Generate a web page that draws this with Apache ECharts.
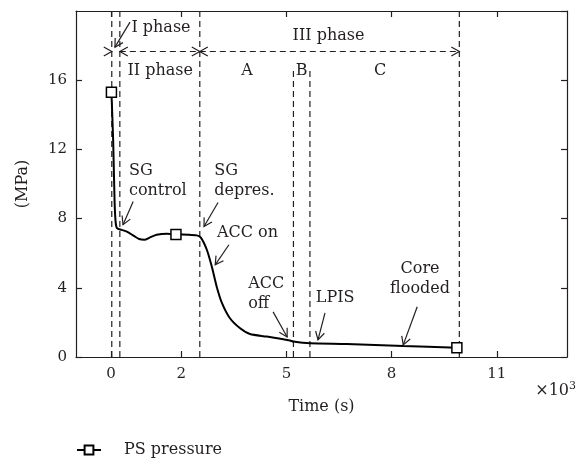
<!DOCTYPE html>
<html>
<head>
<meta charset="utf-8">
<script src="https://cdn.jsdelivr.net/npm/echarts@6/dist/echarts.min.js"></script>
<style>html,body{margin:0;padding:0;background:#fff}#c{width:584px;height:465px}</style>
</head>
<body>
<div id="c"></div>
<script>
// ---- data (time in 10^3 s, pressure in MPa) ----
const timeK = [0.01, 0.06, 0.10, 0.13, 0.17, 0.30, 0.45, 0.65, 0.80, 0.95, 1.10, 1.30, 1.60, 1.85, 2.20, 2.44, 2.56, 2.73, 2.87, 3.01, 3.16, 3.39, 3.68, 3.96, 4.44, 5.10, 5.20, 5.67, 6.72, 8.33, 9.86];
const psPressure = [15.3, 12.5, 9.0, 7.8, 7.45, 7.35, 7.25, 7.0, 6.82, 6.78, 6.9, 7.07, 7.13, 7.08, 7.07, 7.03, 6.9, 6.2, 5.24, 4.08, 3.13, 2.24, 1.66, 1.33, 1.18, 0.95, 0.89, 0.79, 0.75, 0.64, 0.54];
const markerIdx = [0, 13, 30];
const xTickValues = [0, 2, 5, 8, 11];
const yTickInterval = 4;
const seriesName = 'PS pressure';

// phase boundary lines: [x, yTop]
const phaseLines = [[0.02, 20], [0.25, 20], [2.53, 20], [5.2, 16.75], [5.67, 16.75], [9.93, 20]];
// arrows: [x1, y1, x2, y2, dashed, headAtStart, headAtEnd]
const arrows = [
  [-0.25, 17.66, 0.02, 17.66, 0, 0, 1],
  [0.25, 17.66, 2.53, 17.66, 1, 1, 1],
  [2.53, 17.66, 9.93, 17.66, 1, 1, 1],
  [0.54, 19.36, 0.11, 17.91, 0, 0, 1],
  [0.63, 8.99, 0.34, 7.65, 0, 0, 1],
  [3.05, 8.93, 2.65, 7.54, 0, 0, 1],
  [3.36, 6.49, 2.97, 5.33, 0, 0, 1],
  [4.62, 2.61, 5.02, 1.16, 0, 0, 1],
  [6.10, 2.55, 5.90, 0.99, 0, 0, 1],
  [8.73, 2.90, 8.33, 0.70, 0, 0, 1]
];
// annotation texts: [x, y, text, align]
const notes = [
  [0.58, 19.0, 'I phase', 'left'],
  [6.2, 18.55, 'III phase', 'center'],
  [1.4, 16.52, 'II phase', 'center'],
  [3.88, 16.52, 'A', 'center'],
  [5.43, 16.52, 'B', 'center'],
  [7.67, 16.52, 'C', 'center'],
  [0.51, 10.2, 'SG\ncontrol', 'left'],
  [2.94, 10.2, 'SG\ndepres.', 'left'],
  [3.89, 7.19, 'ACC on', 'center'],
  [3.91, 3.66, 'ACC\noff', 'left'],
  [6.39, 3.42, 'LPIS', 'center'],
  [8.81, 4.49, 'Core\nflooded', 'center']
];

const FONT = 'DejaVu Serif';
const INK = '#231f20';

const lineData = timeK.map((t, i) => markerIdx.includes(i)
  ? { value: [t, psPressure[i]] }
  : { value: [t, psPressure[i]], symbol: 'none' });

const chart = echarts.init(document.getElementById('c'), null, { renderer: 'canvas' });

function headPts(tip, from, L, W) {
  const dx = tip[0] - from[0], dy = tip[1] - from[1];
  const len = Math.sqrt(dx * dx + dy * dy) || 1;
  const ux = dx / len, uy = dy / len;
  const nx = -uy, ny = ux;
  return [[tip[0] - L * ux + W * nx, tip[1] - L * uy + W * ny], tip, [tip[0] - L * ux - W * nx, tip[1] - L * uy - W * ny]];
}

const axisLineStyle = { show: true, onZero: false, lineStyle: { color: INK, width: 1.2 } };
const xAxisCommon = {
  type: 'value', min: -1, max: 13,
  axisLine: axisLineStyle,
  axisTick: { show: true, inside: true, length: 6, customValues: xTickValues, lineStyle: { color: INK, width: 1.2 } },
  splitLine: { show: false }
};

chart.setOption({
  animation: false,
  backgroundColor: '#fff',
  textStyle: { fontFamily: FONT, color: INK },
  grid: { left: 76, right: 17, top: 11, bottom: 108, containLabel: false },
  legend: {
    left: 71, top: 437, itemWidth: 24, itemHeight: 11,
    data: [seriesName],
    textStyle: { fontFamily: FONT, fontSize: 16, color: INK, padding: [0, 0, 0, 18] }
  },
  xAxis: [
    Object.assign({}, xAxisCommon, {
      position: 'bottom',
      name: 'Time (s)', nameLocation: 'middle', nameGap: 42,
      nameTextStyle: { fontFamily: FONT, fontSize: 16, color: INK },
      axisLabel: { show: true, customValues: xTickValues, fontFamily: FONT, fontSize: 15, color: INK, margin: 10 }
    }),
    Object.assign({}, xAxisCommon, {
      position: 'top',
      axisLabel: { show: false }
    })
  ],
  yAxis: [
    {
      type: 'value', min: 0, max: 20, interval: yTickInterval, position: 'left',
      name: '(MPa)', nameLocation: 'middle', nameGap: 45, nameRotate: 90,
      nameTextStyle: { fontFamily: FONT, fontSize: 16, color: INK },
      axisLine: axisLineStyle,
      axisTick: { show: true, inside: true, length: 6, lineStyle: { color: INK, width: 1.2 } },
      axisLabel: { show: true, showMaxLabel: false, fontFamily: FONT, fontSize: 15, color: INK, margin: 9 },
      splitLine: { show: false }
    },
    {
      type: 'value', min: 0, max: 20, interval: yTickInterval, position: 'right',
      axisLine: axisLineStyle,
      axisTick: { show: true, inside: true, length: 6, lineStyle: { color: INK, width: 1.2 } },
      axisLabel: { show: false },
      splitLine: { show: false }
    }
  ],
  graphic: [{
    type: 'text', right: 8, top: 381,
    style: {
      text: '×10{sup|3}', fontFamily: FONT, fontSize: 16, fill: INK,
      rich: { sup: { fontFamily: FONT, fontSize: 11, fill: INK, verticalAlign: 'top', padding: [0, 0, 8, 0] } }
    }
  }],
  series: [
    {
      type: 'custom', name: 'phases', xAxisIndex: 0, yAxisIndex: 0, silent: true, z: 1,
      data: phaseLines,
      encode: { x: 0, y: 1 },
      renderItem: function (params, api) {
        const a = api.coord([api.value(0), 0]);
        const b = api.coord([api.value(0), api.value(1)]);
        return { type: 'line', shape: { x1: a[0], y1: a[1], x2: b[0], y2: b[1] },
          style: { stroke: INK, lineWidth: 1.2, lineDash: [6, 4] } };
      }
    },
    {
      type: 'custom', name: 'arrows', xAxisIndex: 0, yAxisIndex: 0, silent: true, z: 3,
      data: arrows,
      encode: { x: [0, 2], y: [1, 3] },
      renderItem: function (params, api) {
        const p1 = api.coord([api.value(0), api.value(1)]);
        const p2 = api.coord([api.value(2), api.value(3)]);
        const dashed = api.value(4) === 1;
        const children = [];
        if (api.value(5) === 1 || Math.hypot(p2[0]-p1[0], p2[1]-p1[1]) > 12) {
          children.push({ type: 'line', shape: { x1: p1[0], y1: p1[1], x2: p2[0], y2: p2[1] },
            style: { stroke: INK, lineWidth: 1.2, lineDash: dashed ? [6, 4] : null } });
        }
        if (api.value(6) === 1) children.push({ type: 'polyline', shape: { points: headPts(p2, p1, 8, 4.5) }, style: { stroke: INK, fill: null, lineWidth: 1.2 } });
        if (api.value(5) === 1) children.push({ type: 'polyline', shape: { points: headPts(p1, p2, 8, 4.5) }, style: { stroke: INK, fill: null, lineWidth: 1.2 } });
        return { type: 'group', children: children };
      }
    },
    {
      type: 'custom', name: 'notes', xAxisIndex: 0, yAxisIndex: 0, silent: true, z: 4,
      data: notes.map(n => [n[0], n[1]]),
      encode: { x: 0, y: 1 },
      renderItem: function (params, api) {
        const n = notes[params.dataIndex];
        const p = api.coord([n[0], n[1]]);
        return { type: 'text', x: p[0], y: p[1],
          style: { text: n[2], fontFamily: FONT, fontSize: 16, fill: INK, align: n[3], verticalAlign: 'middle', lineHeight: 20 } };
      }
    },
    {
      type: 'line', name: seriesName, xAxisIndex: 0, yAxisIndex: 0, z: 5,
      data: lineData,
      smooth: 0.25,
      symbol: 'rect', symbolSize: 10, showSymbol: true,
      lineStyle: { color: '#000', width: 2 },
      itemStyle: { color: '#fff', borderColor: '#000', borderWidth: 1.5 }
    }
  ]
});
</script>
</body>
</html>
